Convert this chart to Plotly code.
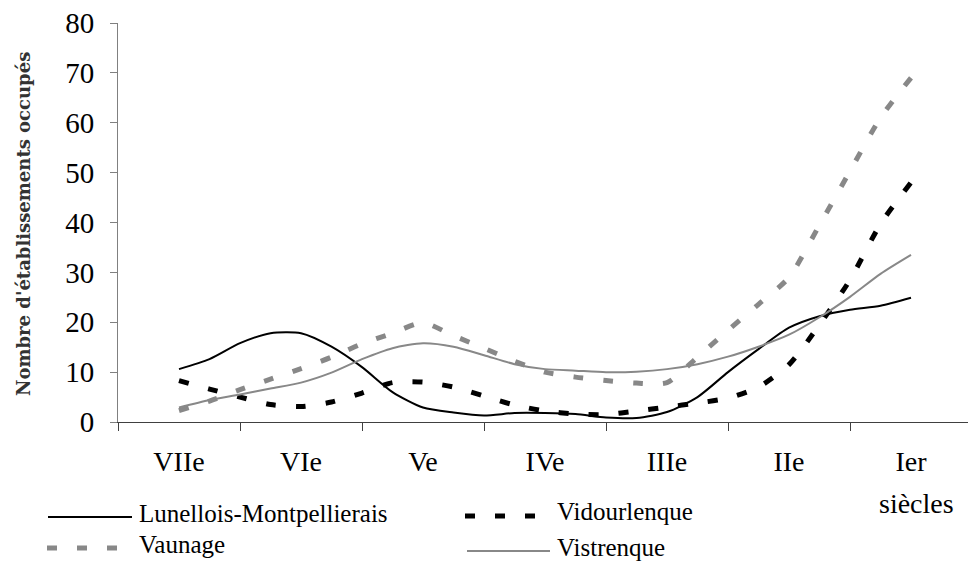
import numpy as np
import plotly.graph_objects as go

# centuries BC, one label per century
centuries = ["VIIe", "VIe", "Ve", "IVe", "IIIe", "IIe", "Ier"]
axis_word = "siècles"
y_title = "Nombre d'établissements occupés"

# values read every quarter century (25 steps from VIIe to Ier)
lunellois = [10.6, 12.6, 15.8, 17.8, 17.8, 15.1, 11.0, 6.0, 2.9, 1.9, 1.3, 1.8, 1.8,
             1.6, 0.9, 0.8, 2.0, 5.0, 10.0, 14.6, 18.9, 21.2, 22.5, 23.3, 24.9]
vidourlenque = [8.3, 6.6, 5.0, 3.5, 3.1, 4.0, 5.8, 7.9, 8.0, 7.0, 5.2, 3.4, 2.2,
                1.6, 1.5, 2.2, 3.0, 3.8, 4.8, 7.0, 11.5, 19.5, 28.5, 39.7, 48.0]
vaunage = [2.3, 4.2, 6.5, 8.6, 10.7, 13.0, 15.7, 17.8, 19.9, 17.3, 14.8, 12.2, 10.0,
           9.0, 8.3, 7.8, 7.9, 13.0, 18.4, 23.6, 29.0, 39.5, 50.3, 61.0, 69.0]
vistrenque = [2.9, 4.4, 5.5, 6.7, 7.9, 9.9, 12.6, 14.8, 15.8, 15.1, 13.4, 11.6, 10.6,
              10.3, 10.0, 10.1, 10.6, 11.6, 13.1, 15.1, 17.5, 21.0, 25.1, 29.7, 33.5]

names = ["Lunellois-Montpellierais", "Vidourlenque", "Vaunage", "Vistrenque"]
series = [lunellois, vidourlenque, vaunage, vistrenque]
styles = [
    dict(color="#000000", width=2, dash="solid"),
    dict(color="#000000", width=5, dash="10px,20px"),
    dict(color="#888888", width=5, dash="10px,20px"),
    dict(color="#888888", width=2, dash="solid"),
]

W, H = 968, 568
ML, MT, MB = 118, 23, 146
PW, PH = W - ML, H - MT - MB
CAT = 122  # px per century

def px(x):
    return (x - ML) / PW

def py(y):
    return (H - MB - y) / PH

steps = np.arange(len(lunellois)) / 4

fig = go.Figure()
for name, vals, st in zip(names, series, styles):
    fig.add_trace(go.Scatter(x=steps, y=vals, name=name, mode="lines",
                             line=dict(shape="spline", smoothing=0.7, **st),
                             showlegend=False))

serif = "Liberation Serif, Times New Roman, serif"

# hand-made legend: 2 x 2 grid like the original
legend_pos = [(48, 132, 517), (465, 537, 516), (47, 118, 548), (467, 550, 551)]
text_x = [137, 555, 137, 555]
shapes = []
annotations = []
for name, st, (x0, x1, yy), tx in zip(names, styles, legend_pos, text_x):
    shapes.append(dict(type="line", xref="paper", yref="paper",
                       x0=px(x0), x1=px(x1), y0=py(yy), y1=py(yy),
                       line=st))
    annotations.append(dict(text=name, xref="paper", yref="paper",
                            x=px(tx), y=py(yy - 4), xanchor="left", yanchor="middle",
                            showarrow=False, font=dict(family=serif, size=25, color="#000")))

annotations.append(dict(text=axis_word, xref="paper", yref="paper",
                        x=px(916), y=py(503), xanchor="center", yanchor="middle",
                        showarrow=False, font=dict(family=serif, size=28, color="#000")))
annotations.append(dict(text="<b>" + y_title + "</b>", xref="paper", yref="paper",
                        textangle=-90,
                        x=px(23), y=py(224), xanchor="center", yanchor="middle",
                        showarrow=False,
                        font=dict(family="DejaVu Serif", size=18, color="#333")))

fig.update_layout(
    width=W, height=H,
    margin=dict(l=ML, r=0, t=MT, b=MB, pad=0),
    plot_bgcolor="white", paper_bgcolor="white",
    shapes=shapes, annotations=annotations,
    showlegend=False,
    xaxis=dict(
        range=[-0.5, -0.5 + PW / CAT], automargin=False,
        tickvals=list(range(len(centuries))), ticktext=centuries,
        ticks="", showgrid=False, zeroline=False,
        showline=True, linecolor="#404040", linewidth=1,
        tickfont=dict(family=serif, size=28, color="#000"),
        ticklabelstandoff=14,
        minor=dict(tickvals=[i - 0.5 for i in range(len(centuries) + 1)],
                   ticks="outside", ticklen=8, tickcolor="#404040", tickwidth=1,
                   showgrid=False),
    ),
    yaxis=dict(
        range=[0, 80], dtick=10, automargin=False,
        ticks="outside", ticklen=7, tickcolor="#808080", tickwidth=1,
        showgrid=False, zeroline=False,
        showline=True, linecolor="#808080", linewidth=1,
        tickfont=dict(family=serif, size=29, color="#000"),
        ticklabelstandoff=10,
    ),
)

# drop the browser's default 8px body margin so the figure sits at the corner
fig.write_html("out.html", config={"displayModeBar": False},
               post_script="document.body.style.margin='0';")
